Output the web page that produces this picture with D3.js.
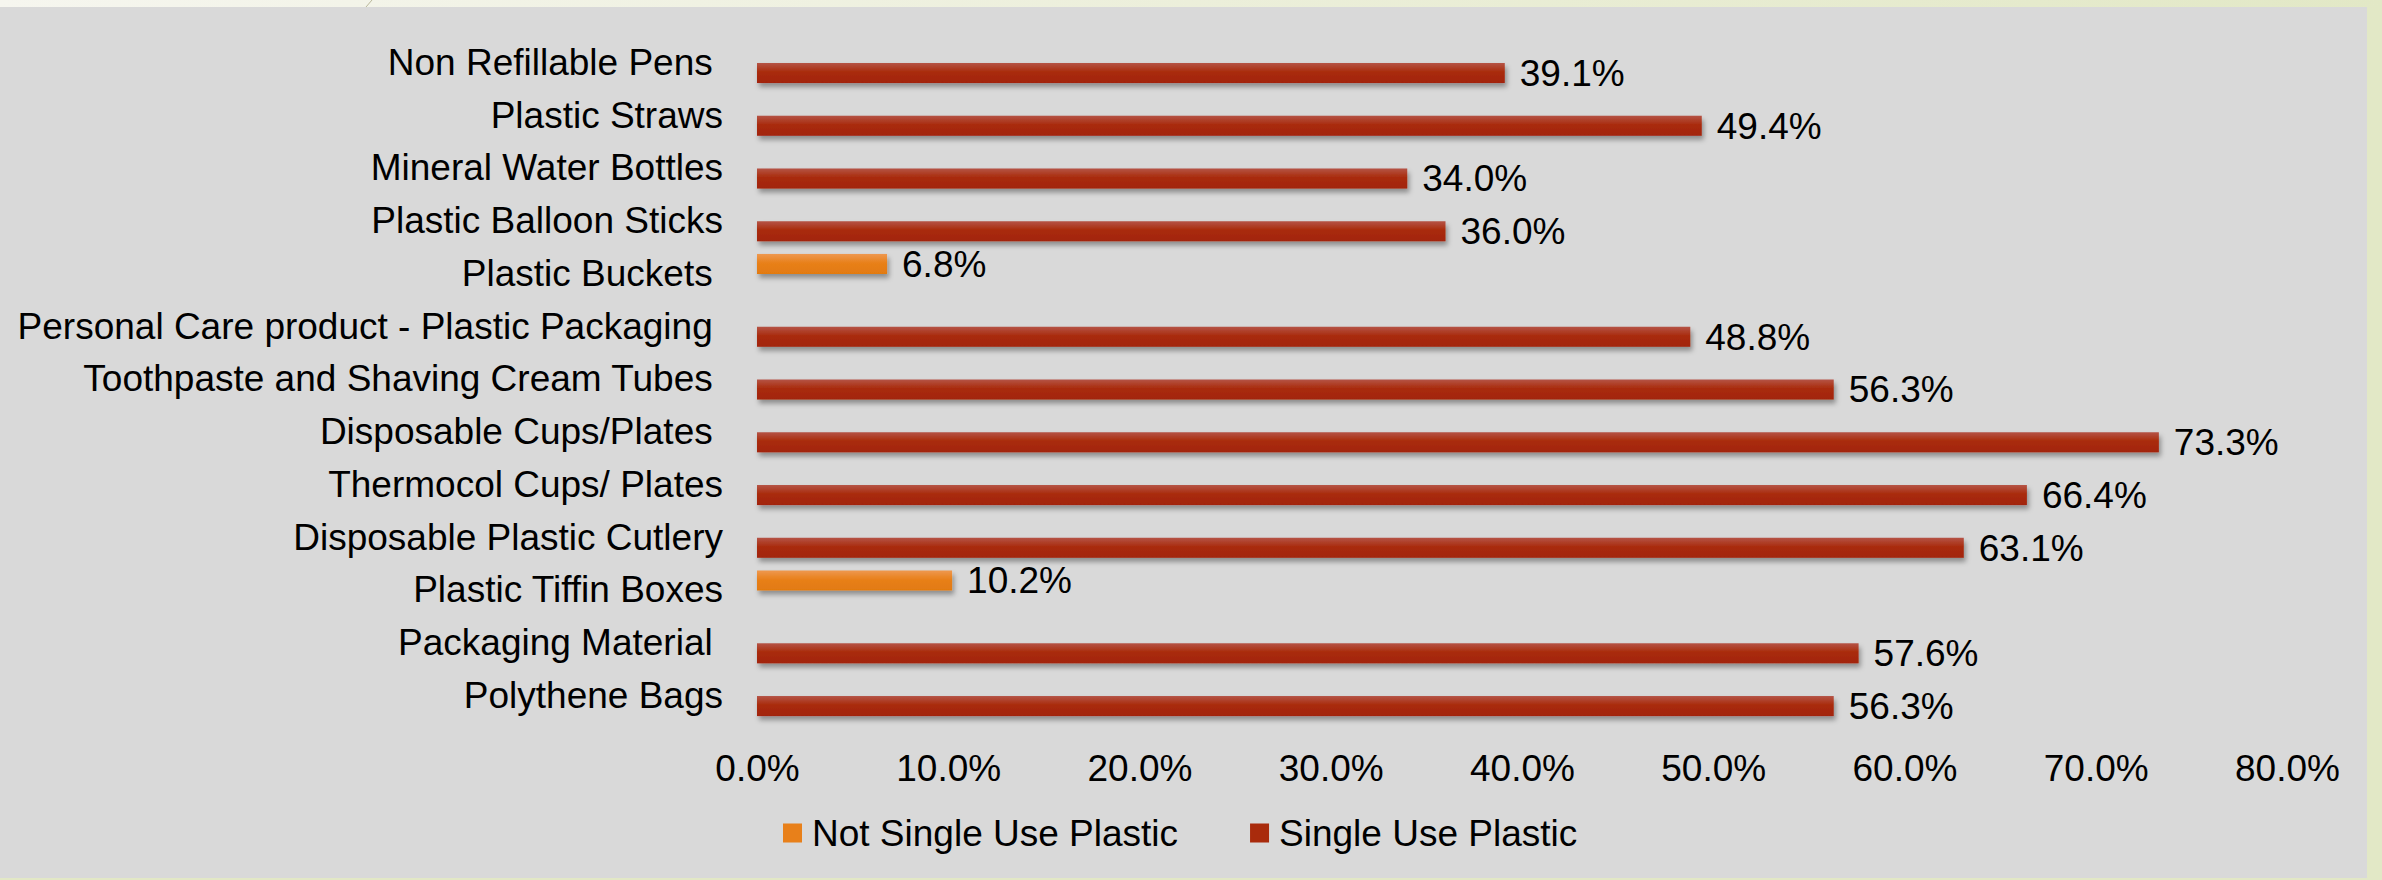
<!DOCTYPE html>
<html>
<head>
<meta charset="utf-8">
<script src="https://cdn.jsdelivr.net/npm/d3@7"></script>
<style>
  body{margin:0;padding:0;background:#E2E8C6;}
  svg{display:block;}
  text{font-family:"Liberation Sans",Arial,sans-serif;fill:#000;white-space:pre;}
</style>
</head>
<body>
<div class="box"></div>
<script>
// categories top -> bottom (trailing spaces are in the source labels)
const categories=['Non Refillable Pens ','Plastic Straws','Mineral Water Bottles','Plastic Balloon Sticks','Plastic Buckets ',
  'Personal Care product - Plastic Packaging ','Toothpaste and Shaving Cream Tubes ','Disposable Cups/Plates ','Thermocol Cups/ Plates',
  'Disposable Plastic Cutlery','Plastic Tiffin Boxes','Packaging Material ','Polythene Bags'];
const seriesNames=['Not Single Use Plastic','Single Use Plastic'];
const notSingleUse=[null,null,null,null,0.068,null,null,null,null,null,0.102,null,null];
const singleUse=[0.391,0.494,0.340,0.360,null,0.488,0.563,0.733,0.664,0.631,null,0.576,0.563];
const xTicks=[0,0.1,0.2,0.3,0.4,0.5,0.6,0.7,0.8];

const W=2382,H=880;
const svg=d3.select('.box').append('svg').attr('width',W).attr('height',H);

const defs=svg.append('defs');
const bg=defs.append('linearGradient').attr('id','topStrip').attr('x1','0').attr('x2','1').attr('y1','0').attr('y2','0');
bg.append('stop').attr('offset','0').attr('stop-color','#F6F6EF');
bg.append('stop').attr('offset','1').attr('stop-color','#E2E8C6');

const grad=(id,c0,c1,c2)=>{
  const g=defs.append('linearGradient').attr('id',id).attr('x1','0').attr('x2','0').attr('y1','0').attr('y2','1');
  g.append('stop').attr('offset','0').attr('stop-color',c0);
  g.append('stop').attr('offset','0.45').attr('stop-color',c1);
  g.append('stop').attr('offset','1').attr('stop-color',c2);
};
grad('gOrange','#EE9850','#E8801A','#E27A10');
grad('gRed','#B55446','#A92B0C','#A2240A');
const sh=defs.append('filter').attr('id','shadow').attr('x','-5%').attr('y','-50%').attr('width','110%').attr('height','250%');
sh.append('feDropShadow').attr('dx',2).attr('dy',4).attr('stdDeviation',2.5)
  .attr('flood-color','#000').attr('flood-opacity',0.35);

// page background + grey panel
svg.append('rect').attr('width',W).attr('height',H).attr('fill','#E2E8C6');
svg.append('rect').attr('width',W).attr('height',8).attr('fill','url(#topStrip)');
svg.append('line').attr('x1',366).attr('y1',7).attr('x2',372).attr('y2',0).attr('stroke','#B9B79A').attr('stroke-width',1);
svg.append('rect').attr('x',0).attr('y',7).attr('width',2367).attr('height',871).attr('fill','#D9D9D9');

const colors={'Not Single Use Plastic':'url(#gOrange)','Single Use Plastic':'url(#gRed)'};
const swatch={'Not Single Use Plastic':'#E8801A','Single Use Plastic':'#A92B0C'};

const x=d3.scaleLinear().domain([0,0.8]).range([757,2287]);
const y=d3.scaleBand().domain(categories).range([36.6,722.4]).paddingInner(0.24).paddingOuter(0.12);
const y1=d3.scaleBand().domain(seriesNames).range([0,y.bandwidth()]);

const rows=categories.map((c,i)=>({cat:c,values:[
  {s:seriesNames[0],v:notSingleUse[i]},{s:seriesNames[1],v:singleUse[i]}].filter(d=>d.v!==null)}));

const fmt=d=>(d*100).toFixed(1)+'%';

const g=svg.append('g');
const groups=g.selectAll('g.cat').data(rows).enter().append('g')
  .attr('class','cat').attr('transform',d=>`translate(0,${y(d.cat)})`);

groups.selectAll('rect').data(d=>d.values).enter().append('rect')
  .attr('x',x(0))
  .attr('y',d=>y1(d.s))
  .attr('width',d=>x(d.v)-x(0))
  .attr('height',y1.bandwidth())
  .attr('fill',d=>colors[d.s])
  .attr('filter','url(#shadow)');

groups.selectAll('text.val').data(d=>d.values).enter().append('text')
  .attr('class','val')
  .attr('x',d=>x(d.v)+15)
  .attr('y',d=>y1(d.s)+y1.bandwidth()/2)
  .attr('dy','0.35em')
  .style('font-size','37px')
  .text(d=>fmt(d.v));

// category axis
const gY=g.append('g').attr('transform',`translate(${x(0)},0)`)
  .call(d3.axisLeft(y).tickSize(0).tickPadding(34));
gY.select('.domain').remove();
gY.selectAll('text').style('font-size','37px').attr('fill','#000')
  .style('font-family','"Liberation Sans",Arial,sans-serif');

// value axis
const gX=g.append('g').attr('transform','translate(0,722)')
  .call(d3.axisBottom(x).tickValues(xTicks).tickSize(0).tickPadding(33).tickFormat(fmt));
gX.select('.domain').remove();
gX.selectAll('text').style('font-size','37px').attr('fill','#000')
  .style('font-family','"Liberation Sans",Arial,sans-serif');

// legend
const leg=svg.append('g').attr('transform','translate(783,833)');
let lx=0;
seriesNames.forEach(s=>{
  const it=leg.append('g').attr('transform',`translate(${lx},0)`);
  it.append('rect').attr('x',0).attr('y',-9.5).attr('width',19).attr('height',19).attr('fill',swatch[s]);
  const t=it.append('text').attr('x',29).attr('dy','0.35em').style('font-size','37px').text(s);
  lx+=29+t.node().getComputedTextLength()+72;
});
</script>
</body>
</html>
